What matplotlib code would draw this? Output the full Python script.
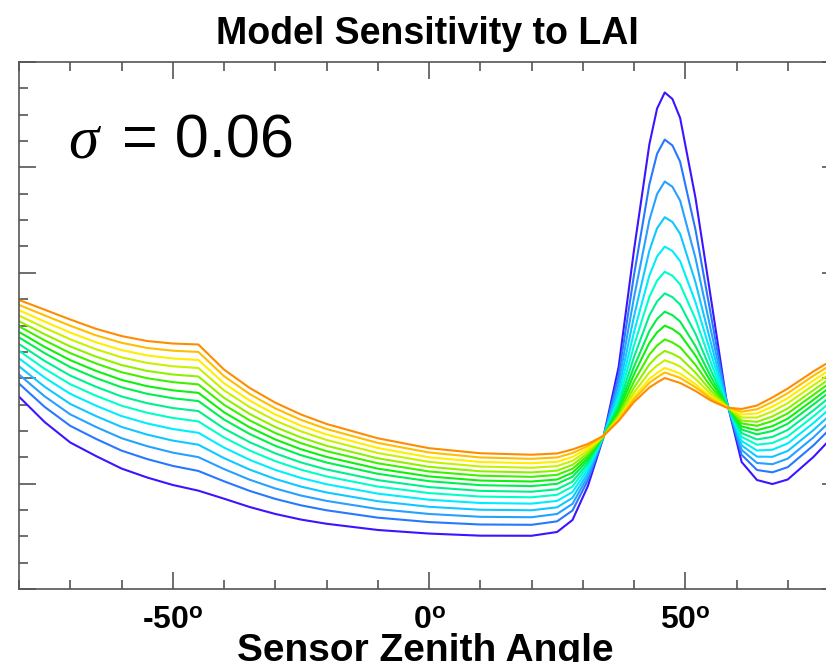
import matplotlib.pyplot as plt
from matplotlib.ticker import FixedLocator, MultipleLocator

plt.rcParams['font.family'] = ['Liberation Sans', 'DejaVu Sans']
plt.rcParams['mathtext.fontset'] = 'custom'
plt.rcParams['mathtext.rm'] = 'Liberation Sans:bold'
plt.rcParams['mathtext.bf'] = 'Liberation Sans:bold'
plt.rcParams['mathtext.it'] = 'Liberation Serif:italic'

# sensor zenith angle (deg)
angle = [-80, -75, -70, -65, -60, -55, -50, -45, -40, -35, -30, -25, -20, -10, 0, 10, 20,
         25, 28, 31, 34, 37, 40, 43, 44.5, 46, 47.5, 49, 52, 55, 58, 61, 64, 67, 70, 75, 80]

# reflectance curves, lowest (violet) to highest (orange) on the left side
sens_01 = [.1825, .1584, .1390, .1262, .1143, .1058, .0987, .0933, .0857, .0778, .0712, .0659, .0619, .0560, .0526, .0506, .0505,
           .0541, .0655, .0977, .1433, .2106, .3216, .4220, .4558, .4711, .4649, .4469, .3710, .2761, .1803, .1205, .1034, .0996, .1039, .1252, .1509]
sens_02 = [.1949, .1728, .1548, .1425, .1313, .1233, .1168, .1120, .1022, .0931, .0855, .0794, .0747, .0677, .0635, .0612, .0609,
           .0642, .0745, .1031, .1436, .2022, .2978, .3839, .4129, .4264, .4208, .4054, .3408, .2601, .1792, .1273, .1129, .1107, .1156, .1362, .1604]
sens_03 = [.2035, .1828, .1657, .1538, .1431, .1355, .1294, .1251, .1138, .1037, .0954, .0887, .0836, .0759, .0712, .0685, .0681,
           .0712, .0808, .1068, .1437, .1946, .2766, .3500, .3747, .3866, .3816, .3685, .3139, .2457, .1785, .1320, .1196, .1184, .1237, .1438, .1670]
sens_04 = [.2113, .1919, .1756, .1641, .1538, .1465, .1408, .1369, .1242, .1133, .1044, .0972, .0916, .0833, .0780, .0752, .0747,
           .0775, .0865, .1102, .1439, .1882, .2586, .3211, .3422, .3527, .3482, .3370, .2910, .2336, .1778, .1363, .1256, .1254, .1310, .1507, .1729]
sens_05 = [.2188, .2006, .1852, .1740, .1641, .1571, .1518, .1482, .1342, .1226, .1130, .1054, .0994, .0905, .0847, .0816, .0810,
           .0836, .0920, .1135, .1441, .1830, .2437, .2974, .3155, .3248, .3207, .3111, .2721, .2236, .1771, .1404, .1314, .1321, .1381, .1574, .1787]
sens_06 = [.2260, .2089, .1943, .1834, .1739, .1672, .1623, .1590, .1438, .1314, .1213, .1132, .1068, .0972, .0910, .0877, .0870,
           .0894, .0972, .1166, .1442, .1785, .2310, .2771, .2926, .3010, .2972, .2890, .2560, .2150, .1765, .1443, .1369, .1385, .1448, .1637, .1842]
sens_07 = [.2324, .2164, .2025, .1919, .1827, .1763, .1717, .1688, .1523, .1393, .1287, .1201, .1134, .1033, .0967, .0931, .0923,
           .0946, .1019, .1194, .1443, .1746, .2201, .2595, .2728, .2804, .2769, .2699, .2421, .2076, .1759, .1479, .1419, .1443, .1509, .1694, .1891]
sens_08 = [.2387, .2238, .2105, .2002, .1914, .1852, .1810, .1783, .1608, .1471, .1359, .1270, .1200, .1093, .1023, .0985, .0976,
           .0998, .1065, .1222, .1445, .1713, .2109, .2448, .2562, .2631, .2598, .2538, .2304, .2014, .1753, .1513, .1467, .1499, .1568, .1750, .1939]
sens_09 = [.2439, .2297, .2171, .2070, .1984, .1924, .1885, .1861, .1677, .1534, .1419, .1326, .1253, .1142, .1068, .1029, .1020,
           .1039, .1103, .1244, .1446, .1688, .2038, .2334, .2435, .2498, .2467, .2415, .2214, .1966, .1749, .1542, .1507, .1545, .1616, .1795, .1979]
sens_10 = [.2492, .2359, .2238, .2140, .2057, .2000, .1963, .1941, .1748, .1600, .1480, .1384, .1308, .1193, .1115, .1075, .1064,
           .1083, .1141, .1267, .1447, .1663, .1969, .2224, .2310, .2368, .2339, .2294, .2126, .1919, .1744, .1571, .1548, .1593, .1666, .1842, .2019]
sens_11 = [.2541, .2417, .2301, .2205, .2125, .2069, .2035, .2016, .1814, .1661, .1537, .1438, .1359, .1240, .1159, .1117, .1106,
           .1123, .1178, .1289, .1448, .1643, .1911, .2131, .2206, .2259, .2232, .2194, .2053, .1880, .1740, .1598, .1586, .1637, .1713, .1886, .2057]
sens_12 = [.2594, .2478, .2369, .2275, .2198, .2145, .2113, .2097, .1885, .1726, .1598, .1496, .1414, .1290, .1206, .1162, .1150,
           .1166, .1216, .1312, .1449, .1626, .1863, .2055, .2120, .2170, .2144, .2111, .1993, .1848, .1735, .1627, .1627, .1685, .1763, .1933, .2098]
sens_13 = [.2645, .2537, .2433, .2341, .2267, .2216, .2187, .2173, .1952, .1788, .1656, .1550, .1466, .1338, .1250, .1205, .1193,
           .1207, .1253, .1334, .1450, .1612, .1825, .1993, .2050, .2097, .2072, .2043, .1943, .1822, .1731, .1655, .1666, .1730, .1811, .1978, .2137]
sens_14 = [.2695, .2596, .2498, .2407, .2336, .2287, .2261, .2249, .2020, .1850, .1714, .1605, .1518, .1386, .1295, .1248, .1235,
           .1248, .1290, .1356, .1451, .1604, .1801, .1956, .2008, .2054, .2029, .2003, .1914, .1807, .1726, .1682, .1705, .1775, .1858, .2023, .2175]
sens_15 = [.2742, .2650, .2557, .2469, .2400, .2353, .2329, .2320, .2082, .1908, .1768, .1656, .1566, .1430, .1336, .1288, .1274,
           .1286, .1324, .1376, .1452, .1594, .1774, .1912, .1959, .2002, .1978, .1955, .1879, .1788, .1722, .1708, .1741, .1817, .1902, .2064, .2211]

curves = [sens_01, sens_02, sens_03, sens_04, sens_05, sens_06, sens_07, sens_08,
          sens_09, sens_10, sens_11, sens_12, sens_13, sens_14, sens_15]
colors = ['#3c14ff', '#2878ff', '#28a0ff', '#10c8ff', '#00ecff', '#00ffc8', '#00f090', '#00f050',
          '#10f010', '#40f000', '#90f000', '#c8f000', '#ffee00', '#ffbe00', '#ff8c00']

fig = plt.figure(figsize=(8.26, 6.62), dpi=100)
# axes runs past the right edge of the figure, as in the cropped original
ax = fig.add_axes([19 / 826, 73 / 662, 820 / 826, 527 / 662])

for ys, c in zip(curves, colors):
    ax.plot(angle, ys, color=c, lw=1.5)

ax.set_xlim(-80, 80)
ax.set_ylim(0, 0.5)
ax.xaxis.set_major_locator(FixedLocator([-50, 0, 50]))
ax.xaxis.set_minor_locator(MultipleLocator(10))
ax.yaxis.set_major_locator(MultipleLocator(0.1))
ax.yaxis.set_minor_locator(MultipleLocator(0.025))
ax.set_xticklabels([r'-50$^{\mathrm{o}}$', r'0$^{\mathrm{o}}$', r'50$^{\mathrm{o}}$'])
ax.tick_params(which='both', direction='in', top=True, right=True, color='#555555', width=1.2,
               labelleft=False)
ax.tick_params(which='major', length=12)
ax.tick_params(which='minor', length=6.7)
ax.tick_params(axis='x', labelsize=23, pad=12)
for lab in ax.get_xticklabels():
    lab.set_fontweight('bold')
for sp in ax.spines.values():
    sp.set_color('#555555')
    sp.set_linewidth(1.2)

fig.text(427 / 826, 1 - 44 / 662, 'Model Sensitivity to LAI', ha='center', va='baseline',
         fontsize=27, fontweight='bold')
fig.text(425 / 826, 1 - 661 / 662, 'Sensor Zenith Angle', ha='center', va='baseline',
         fontsize=28, fontweight='bold')
fig.text(68 / 826, 1 - 158 / 662, '\u03c3', fontsize=44, family='Liberation Serif', style='italic',
         va='baseline')
fig.text(122 / 826, 1 - 158 / 662, '= 0.06', fontsize=44, va='baseline')

fig.savefig('out.png', dpi=100)
